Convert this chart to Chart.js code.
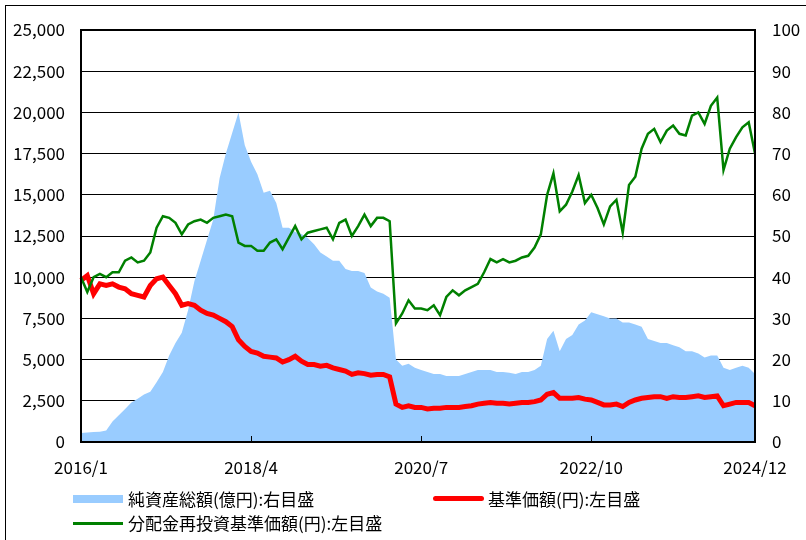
<!DOCTYPE html>
<html>
<head>
<meta charset="utf-8">
<script src="https://cdn.jsdelivr.net/npm/chart.js@4"></script>
<style>
  body { margin: 0; background: #fff; }
  #wrap { position: relative; width: 806px; height: 540px; overflow: hidden; }
  #frame { position: absolute; left: 5px; top: 5px; width: 900px; height: 600px; border: 1px solid #000; }
  #c { position: absolute; left: 0; top: 0; }
  .lg { position: absolute; font: 17px "Noto Sans CJK JP", sans-serif; color: #000; line-height: 20px; white-space: nowrap; }
  .sw { position: absolute; }
</style>
</head>
<body>
<div id="wrap">
  <div id="frame"></div>
  <canvas id="c" width="806" height="540"></canvas>
  <div class="sw" style="left:73px;top:495px;width:50px;height:8px;background:#99ccff"></div>
  <div class="lg" style="left:128px;top:489px">純資産総額(億円):右目盛</div>
  <div class="sw" style="left:433px;top:496px;width:51px;height:5px;background:#ff0000;border-radius:3px"></div>
  <div class="lg" style="left:488px;top:489px">基準価額(円):左目盛</div>
  <div class="sw" style="left:73px;top:522px;width:50px;height:3px;background:#008000"></div>
  <div class="lg" style="left:128px;top:513px">分配金再投資基準価額(円):左目盛</div>
</div>
<script>
// ---- data (monthly, 2016/1 .. 2024/12) ----
const months = [];
for (let y = 2016; y <= 2024; y++) for (let m = 1; m <= 12; m++) months.push(y + "/" + m);

const tickLabels = ["2016/1", "2018/4", "2020/7", "2022/10", "2024/12"];

// 分配金再投資基準価額(円)
const reinvestNav = [
  10000, 9100, 10000, 10200, 10000, 10300, 10300, 11000, 11200, 10900, 11000, 11500,
  13000, 13700, 13600, 13300, 12600, 13200, 13400, 13500, 13300, 13600, 13700, 13800,
  13700, 12100, 11900, 11900, 11600, 11600, 12100, 12300, 11700, 12400, 13100, 12300,
  12700, 12800, 12900, 13000, 12300, 13300, 13500, 12500, 13100, 13800, 13100, 13600,
  13600, 13400, 7200, 7800, 8600, 8100, 8100, 8000, 8300, 7700, 8800, 9200,
  8900, 9200, 9400, 9600, 10300, 11100, 10900, 11100, 10900, 11000, 11200, 11300,
  11800, 12600, 15000, 16300, 14000, 14400, 15200, 16200, 14500, 15000, 14200, 13200,
  14300, 14700, 12700, 15600, 16100, 17800, 18700, 19000, 18200, 18900, 19200, 18700,
  18600, 19800, 20000, 19300, 20400, 20900, 16500, 17800, 18500, 19100, 19400, 17500
];

// 基準価額(円)
const nav = [
  9800, 10100, 9000, 9600, 9500, 9600, 9400, 9300, 9000, 8900, 8800, 9500,
  9900, 10000, 9500, 9000, 8300, 8400, 8300, 8000, 7800, 7700, 7500, 7300,
  7000, 6200, 5800, 5500, 5400, 5200, 5150, 5100, 4850, 5000, 5200, 4900,
  4700, 4700, 4600, 4650, 4500, 4400, 4300, 4100, 4200, 4150, 4050, 4100,
  4100, 3950, 2300, 2100, 2200, 2100, 2100, 2000, 2050, 2050, 2100, 2100,
  2100, 2150, 2200, 2300, 2350, 2400, 2350, 2350, 2300, 2350, 2400, 2400,
  2450, 2550, 2900, 3000, 2650, 2650, 2650, 2700, 2600, 2550, 2400, 2250,
  2250, 2300, 2150, 2400, 2550, 2650, 2700, 2750, 2750, 2650, 2750, 2700,
  2700, 2750, 2800, 2700, 2750, 2800, 2200, 2300, 2400, 2400, 2400, 2200
];

// 純資産総額(億円)
const netAssets = [
  2.2, 2.3, 2.4, 2.5, 2.8, 5.0, 6.5, 8.0, 9.6, 10.5, 11.5, 12.2,
  14.5, 17, 21, 24, 26.5, 32, 39, 44, 49, 54, 64, 70,
  75, 80, 72, 68, 65, 60.5, 61, 58, 52, 52, 51, 50.5,
  49.5, 48, 46, 45, 44, 44, 42, 41.5, 41.5, 41, 37.5, 36.5,
  36, 35, 20, 18.5, 19, 18, 17.5, 17, 16.5, 16.5, 16, 16,
  16, 16.5, 17, 17.5, 17.5, 17.5, 17, 17, 16.8, 16.5, 17, 17,
  17.5, 18.5, 25, 27, 22, 25, 26, 28.5, 29.5, 31.5, 31, 30.5,
  30, 30, 29, 29, 28.5, 28, 25, 24.5, 24, 24, 23.5, 23,
  22, 22, 21.5, 20.5, 21, 21, 18, 17.5, 18, 18.5, 18, 16.5
];

const font = { family: '"Noto Sans CJK JP", sans-serif', size: 17 };

// frame around plot + inward tick marks on the x axis
const framePlugin = {
  id: "frame",
  afterDraw(chart) {
    const { ctx, chartArea: a, scales } = chart;
    ctx.save();
    ctx.strokeStyle = "#000";
    ctx.lineWidth = 1;
    [27, 54, 81].forEach(i => {
      const x = Math.round(scales.x.getPixelForValue(i)) + 0.5;
      ctx.beginPath();
      ctx.moveTo(x, a.bottom);
      ctx.lineTo(x, a.bottom - 6);
      ctx.stroke();
    });
    ctx.lineWidth = 2;
    ctx.strokeRect(a.left, a.top, a.right - a.left, a.bottom - a.top);
    ctx.restore();
  }
};

new Chart(document.getElementById("c"), {
  type: "line",
  data: {
    labels: months,
    datasets: [
      { label: "分配金再投資基準価額(円):左目盛", data: reinvestNav, yAxisID: "y",
        borderColor: "#008000", borderWidth: 2.5, pointRadius: 0, tension: 0 },
      { label: "基準価額(円):左目盛", data: nav, yAxisID: "y",
        borderColor: "#ff0000", borderWidth: 5, pointRadius: 0, tension: 0 },
      { label: "純資産総額(億円):右目盛", data: netAssets, yAxisID: "y2",
        borderWidth: 0, backgroundColor: "#99ccff", fill: "origin", pointRadius: 0, tension: 0 }
    ]
  },
  options: {
    responsive: false,
    animation: false,
    devicePixelRatio: 1,
    layout: { padding: { top: 30, left: 0, right: 0, bottom: 0 } },
    plugins: { legend: { display: false }, tooltip: { enabled: false } },
    scales: {
      x: {
        offset: false,
        grid: { display: false },
        border: { display: false },
        afterFit: s => { s.height = 98; },
        ticks: {
          autoSkip: false, maxRotation: 0, padding: 7, color: "#000", font,
          callback: function (v) {
            const l = this.getLabelForValue(v);
            return tickLabels.includes(l) ? l : null;
          }
        }
      },
      y: {
        position: "left", min: 0, max: 25000,
        afterFit: s => { s.width = 81; },
        grid: { color: "#000", lineWidth: 1, drawTicks: false },
        border: { display: false },
        ticks: { stepSize: 2500, padding: 16, color: "#000", font,
          callback: v => v.toLocaleString("en-US") }
      },
      y2: {
        position: "right", min: 0, max: 100,
        afterFit: s => { s.width = 51; },
        grid: { drawOnChartArea: false, drawTicks: false },
        border: { display: false },
        ticks: { stepSize: 10, padding: 17, color: "#000", font }
      }
    }
  },
  plugins: [framePlugin]
});
</script>
</body>
</html>
